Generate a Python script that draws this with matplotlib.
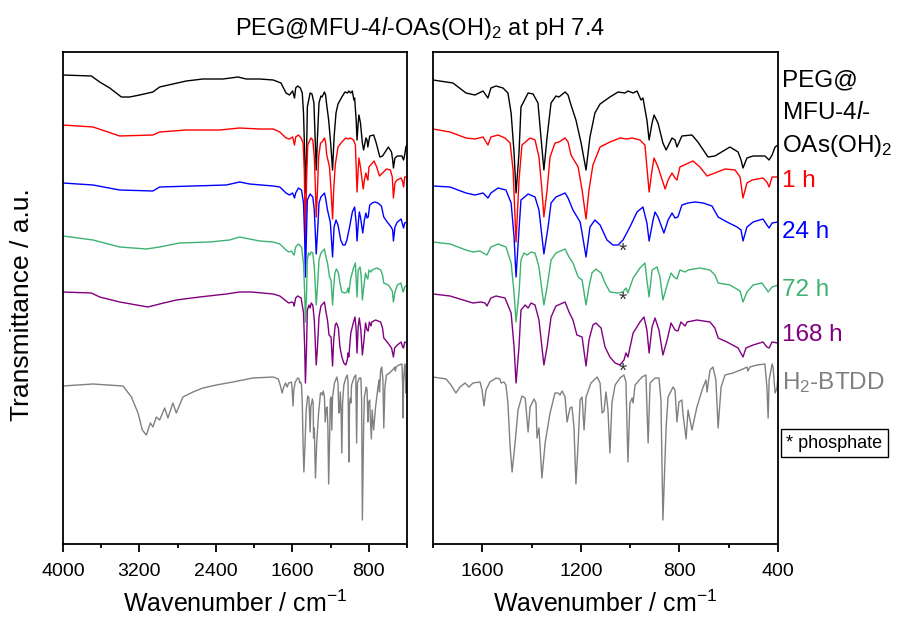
import matplotlib
matplotlib.use('Agg')
import matplotlib.pyplot as plt
from matplotlib.ticker import MultipleLocator

plt.rcParams['font.family'] = ['Liberation Sans', 'DejaVu Sans']
plt.rcParams['mathtext.fontset'] = 'custom'
plt.rcParams['mathtext.rm'] = 'Liberation Sans'
plt.rcParams['mathtext.it'] = 'Liberation Sans:italic'

# IR spectra, wavenumber (cm-1) vs transmittance (a.u., already stacked with offsets)
wn_peg = [4000, 3703, 3616, 3511, 3389, 3302, 3198, 3059, 2989, 2850, 2710, 2536, 2326, 2170, 2082, 1943,
          1800, 1719, 1666, 1630, 1597, 1577, 1565, 1544, 1516, 1496, 1483, 1471, 1463, 1451, 1443, 1414,
          1394, 1374, 1362, 1350, 1337, 1321, 1301, 1289, 1264, 1252, 1240, 1220, 1199, 1179, 1163, 1143,
          1122, 1082, 1049, 1021, 1009, 988, 972, 956, 948, 932, 923, 911, 903, 887, 867, 854, 830, 818,
          810, 790, 749, 725, 684, 656, 595, 562, 550, 542, 526, 501, 453, 436, 424, 412, 400]
t_peg = [46.9, 46.8, 46.2, 45.6, 44.7, 44.7, 44.9, 45.2, 45.7, 46.0, 46.3, 46.5, 46.5, 46.7, 46.5, 46.5,
         46.4, 46.1, 45.1, 44.9, 45.3, 44.6, 45.6, 45.8, 45.6, 45.1, 43.1, 39.1, 35.1, 39.1, 43.7, 45.1,
         45.0, 44.1, 40.7, 37.4, 40.7, 44.1, 44.8, 44.7, 45.2, 44.9, 43.9, 42.4, 40.1, 37.4, 40.7, 43.1,
         44.0, 44.7, 45.2, 45.1, 45.3, 45.1, 45.3, 44.4, 44.6, 42.4, 40.4, 42.1, 42.9, 42.1, 40.1, 39.4,
         40.6, 40.4, 39.7, 40.8, 40.9, 40.2, 38.7, 38.8, 39.7, 39.2, 38.4, 37.6, 38.6, 38.8, 38.8, 38.4,
         38.9, 39.7, 39.9]

wn_1h = [4000, 3686, 3407, 3059, 2989, 2710, 2361, 2152, 1943, 1800, 1731, 1666, 1630, 1597, 1577, 1565,
         1536, 1508, 1487, 1475, 1463, 1451, 1439, 1406, 1386, 1370, 1358, 1350, 1337, 1325, 1305, 1289,
         1264, 1252, 1240, 1211, 1195, 1179, 1167, 1151, 1122, 1090, 1082, 1041, 1013, 992, 960, 940, 932,
         923, 911, 903, 887, 858, 846, 830, 818, 810, 798, 745, 717, 688, 656, 615, 574, 554, 542, 526,
         505, 461, 445, 436, 424, 400]
t_1h = [41.9, 41.7, 40.8, 40.9, 41.2, 41.4, 41.4, 41.6, 41.5, 41.5, 41.2, 40.6, 40.5, 40.7, 39.9, 40.7,
        40.9, 40.6, 40.1, 37.4, 30.2, 36.4, 39.9, 40.6, 40.4, 38.7, 35.4, 32.7, 35.4, 38.7, 40.1, 40.2,
        40.6, 40.2, 38.9, 37.7, 35.4, 32.5, 35.4, 37.9, 39.7, 40.1, 40.2, 40.6, 40.5, 40.6, 40.4, 39.9, 37.7,
        35.2, 37.4, 38.6, 37.7, 35.5, 36.4, 37.1, 36.6, 36.4, 37.7, 38.3, 37.7, 36.8, 37.1, 37.5, 37.4,
        36.7, 34.6, 36.1, 36.4, 36.6, 36.2, 35.7, 36.7, 36.7]

wn_24h = [4000, 3686, 3407, 3059, 2989, 2640, 2291, 2152, 2047, 1800, 1731, 1666, 1630, 1597, 1577, 1565,
          1536, 1504, 1483, 1471, 1463, 1451, 1443, 1414, 1386, 1370, 1350, 1333, 1321, 1301, 1264, 1252,
          1232, 1203, 1195, 1179, 1163, 1143, 1122, 1094, 1070, 1049, 1029, 1001, 972, 948, 932, 923, 907,
          899, 887, 863, 846, 830, 818, 806, 790, 765, 737, 704, 668, 643, 607, 566, 550, 542, 526, 501,
          461, 445, 436, 424, 400]
t_24h = [36.1, 35.9, 35.4, 35.3, 35.7, 35.8, 35.9, 36.2, 36.0, 35.8, 35.7, 35.1, 34.9, 35.1, 34.6, 35.1,
         35.6, 35.4, 34.1, 30.7, 26.7, 31.4, 34.4, 35.0, 34.7, 33.4, 29.0, 31.7, 34.1, 34.7, 35.1, 34.6,
         33.4, 32.2, 31.1, 28.7, 31.7, 32.4, 31.9, 30.4, 29.9, 29.9, 30.4, 31.7, 33.2, 33.7, 32.1, 30.3, 32.4,
         33.2, 32.7, 31.1, 32.4, 33.1, 32.6, 32.7, 33.9, 34.1, 34.2, 34.1, 33.8, 32.7, 32.2, 31.7, 31.4,
         30.3, 31.7, 32.2, 32.5, 31.9, 31.6, 32.1, 32.2]

wn_72h = [4000, 3686, 3407, 3128, 2989, 2780, 2466, 2257, 2152, 1943, 1800, 1731, 1666, 1638, 1609, 1597,
          1581, 1565, 1536, 1504, 1483, 1471, 1463, 1451, 1443, 1431, 1418, 1402, 1386, 1370, 1350, 1337,
          1321, 1301, 1264, 1248, 1232, 1211, 1195, 1179, 1167, 1155, 1139, 1118, 1102, 1082, 1049, 1029,
          1017, 1009, 988, 960, 940, 932, 923, 911, 891, 879, 867, 850, 834, 822, 810, 798, 777, 765, 717,
          676, 656, 643, 595, 554, 542, 526, 501, 465, 445, 440, 424, 400]
t_72h = [30.8, 30.4, 29.7, 29.5, 29.7, 30.1, 30.2, 30.4, 30.7, 30.3, 30.2, 30.0, 29.4, 29.2, 29.3, 29.1,
         28.9, 29.7, 30.0, 29.7, 28.1, 25.1, 22.2, 25.1, 28.4, 29.1, 28.9, 29.2, 29.1, 27.7, 23.9, 25.7,
         28.4, 29.1, 29.5, 28.7, 28.1, 26.7, 26.4, 23.9, 25.7, 27.1, 27.5, 27.1, 26.1, 25.2, 25.1, 25.2,
         25.6, 25.1, 26.6, 27.6, 28.1, 26.4, 24.7, 27.4, 27.7, 26.7, 24.4, 25.9, 27.1, 26.7, 26.5, 27.4,
         27.2, 27.4, 27.6, 27.4, 26.9, 26.1, 25.9, 25.3, 24.2, 25.2, 25.9, 26.1, 25.4, 25.2, 25.7, 25.9]

wn_168h = [4000, 3703, 3616, 3407, 3111, 2989, 2814, 2570, 2291, 2152, 2029, 1800, 1731, 1678, 1638, 1605,
           1589, 1581, 1565, 1544, 1508, 1483, 1471, 1463, 1451, 1443, 1426, 1414, 1402, 1386, 1370, 1350,
           1337, 1321, 1301, 1264, 1248, 1232, 1216, 1195, 1179, 1167, 1151, 1139, 1118, 1102, 1082, 1061,
           1041, 1025, 1017, 1009, 988, 960, 944, 932, 923, 911, 899, 883, 867, 850, 834, 818, 806, 794,
           777, 769, 729, 676, 656, 643, 607, 562, 542, 530, 501, 461, 445, 436, 424, 400]
t_168h = [25.2, 25.1, 24.7, 24.2, 23.7, 24.0, 24.4, 24.7, 25.0, 25.2, 25.2, 25.0, 24.8, 24.4, 24.1, 24.2,
          24.1, 23.8, 24.6, 24.8, 24.6, 23.1, 19.7, 16.1, 19.7, 23.4, 23.9, 23.6, 24.1, 23.9, 22.4, 17.9,
          19.7, 22.7, 23.8, 24.2, 23.2, 22.4, 20.9, 20.7, 17.8, 20.4, 21.9, 22.1, 21.6, 19.7, 18.7, 18.1,
          17.9, 18.4, 19.1, 18.7, 21.1, 22.2, 22.7, 21.4, 19.1, 21.7, 22.6, 21.4, 18.9, 20.4, 22.1, 21.4,
          21.3, 22.2, 21.8, 22.2, 22.4, 22.2, 21.6, 20.6, 20.2, 19.6, 18.7, 19.6, 19.9, 20.2, 19.7, 19.6,
          20.2, 20.1]

wn_btdd = [4000, 3686, 3372, 3284, 3215, 3170, 3128, 3086, 3059, 3023, 2989, 2936, 2902, 2850, 2814, 2745,
           2640, 2536, 2396, 2222, 2013, 1800, 1747, 1727, 1707, 1690, 1670, 1654, 1638, 1609, 1601, 1593,
           1585, 1569, 1544, 1528, 1524, 1512, 1504, 1496, 1487, 1479, 1467, 1455, 1439, 1426, 1414, 1406,
           1390, 1382, 1378, 1370, 1358, 1345, 1325, 1305, 1293, 1285, 1276, 1264, 1256, 1244, 1236, 1228,
           1220, 1211, 1203, 1195, 1187, 1179, 1159, 1134, 1122, 1114, 1106, 1098, 1090, 1082, 1074, 1061,
           1041, 1025, 1017, 1009, 1001, 992, 988, 980, 952, 936, 927, 919, 899, 883, 875, 867, 854, 846,
           826, 818, 810, 802, 790, 786, 773, 765, 749, 729, 704, 692, 688, 676, 664, 652, 643, 631, 615,
           583, 542, 526, 522, 514, 485, 453, 445, 440, 436, 424, 420, 412, 404, 400]
t_btdd = [15.8, 16.0, 15.8, 14.7, 13.1, 11.4, 10.9, 12.1, 11.7, 12.7, 12.4, 13.6, 12.6, 14.1, 13.1, 14.7,
          15.2, 15.6, 15.9, 16.2, 16.6, 16.7, 16.5, 15.9, 15.1, 15.7, 16.1, 15.7, 16.1, 16.2, 15.4, 13.8,
          15.4, 16.2, 16.6, 16.5, 16.1, 16.2, 15.9, 14.1, 9.7, 7.2, 10.1, 13.4, 14.8, 14.6, 11.2, 13.7,
          14.5, 14.1, 10.6, 11.6, 6.6, 10.1, 13.1, 15.1, 15.1, 14.9, 15.3, 14.7, 12.2, 13.6, 13.7, 11.7,
          6.0, 10.1, 14.4, 14.7, 11.4, 14.7, 16.1, 16.7, 16.1, 13.1, 13.3, 15.2, 13.4, 9.1, 14.1, 15.9,
          16.6, 16.9, 16.2, 8.2, 14.1, 14.6, 14.1, 15.9, 16.7, 16.9, 10.1, 16.1, 16.6, 16.6, 14.4, 2.4, 11.7,
          14.7, 15.7, 15.4, 12.2, 14.2, 14.4, 13.1, 10.5, 13.4, 11.4, 13.7, 15.7, 16.4, 15.2, 17.4, 17.7,
          16.4, 11.6, 15.7, 16.9, 17.1, 17.5, 17.7, 17.3, 17.7, 17.9, 18.0, 15.7, 12.6, 16.4, 18.0, 17.7,
          15.1, 15.6, 16.8]

colors = ['black', '#ff0000', '#0000ff', '#3cb371', '#800080', '#808080']
spectra = [(wn_peg, t_peg), (wn_1h, t_1h), (wn_24h, t_24h), (wn_72h, t_72h),
           (wn_168h, t_168h), (wn_btdd, t_btdd)]

W, H = 897, 621
fig = plt.figure(figsize=(W / 100, H / 100), dpi=100)
ax1 = fig.add_axes([63 / W, 77 / H, 344 / W, 492 / H])
ax2 = fig.add_axes([433 / W, 77 / H, 345 / W, 492 / H])

for ax in (ax1, ax2):
    for (wn, t), c in zip(spectra, colors):
        ax.plot(wn, t, color=c, lw=1)
    ax.set_ylim(0, 49.2)
    ax.set_yticks([])
    ax.tick_params(axis='x', which='both', direction='out', top=False, labelsize=14, width=1.3)
    ax.tick_params(axis='x', which='major', length=6, pad=8)
    ax.tick_params(axis='x', which='minor', length=3)
    for s in ax.spines.values():
        s.set_linewidth(1.3)
    ax.set_xlabel('Wavenumber / cm$^{-1}$', fontsize=18, labelpad=7)

ax1.set_xlim(4000, 400)
ax1.xaxis.set_major_locator(MultipleLocator(800))
ax1.xaxis.set_minor_locator(MultipleLocator(400))
ax2.set_xlim(1800, 400)
ax2.xaxis.set_major_locator(MultipleLocator(400))
ax2.xaxis.set_minor_locator(MultipleLocator(200))

# phosphate markers
for y in [29.3, 24.4, 17.3]:
    ax2.text(1029, y, '*', color='#333333', fontsize=15, ha='center', va='center')

fig.text(420 / W, 1 - 28 / H, 'PEG@MFU-4$\\it{l}$-OAs(OH)$_2$ at pH 7.4', ha='center', va='center', fontsize=17)
fig.text(22 / W, 1 - 305 / H, 'Transmittance / a.u.', rotation=90, ha='center', va='center', fontsize=19)

labels = ['PEG@', 'MFU-4$\\it{l}$-', 'OAs(OH)$_2$', '1 h', '24 h', '72 h', '168 h', 'H$_2$-BTDD']
label_y = [80, 113, 146, 181, 232, 290, 335, 383]
label_c = ['black', 'black', 'black'] + colors[1:]
for txt, y, c in zip(labels, label_y, label_c):
    fig.text(782 / W, 1 - y / H, txt, color=c, fontsize=17.5, ha='left', va='center')

fig.text(786 / W, 1 - 443 / H, '* phosphate', fontsize=13, ha='left', va='center',
         bbox=dict(boxstyle='square,pad=0.3', fc='white', ec='black', lw=1))

fig.savefig('out.png', dpi=100)
